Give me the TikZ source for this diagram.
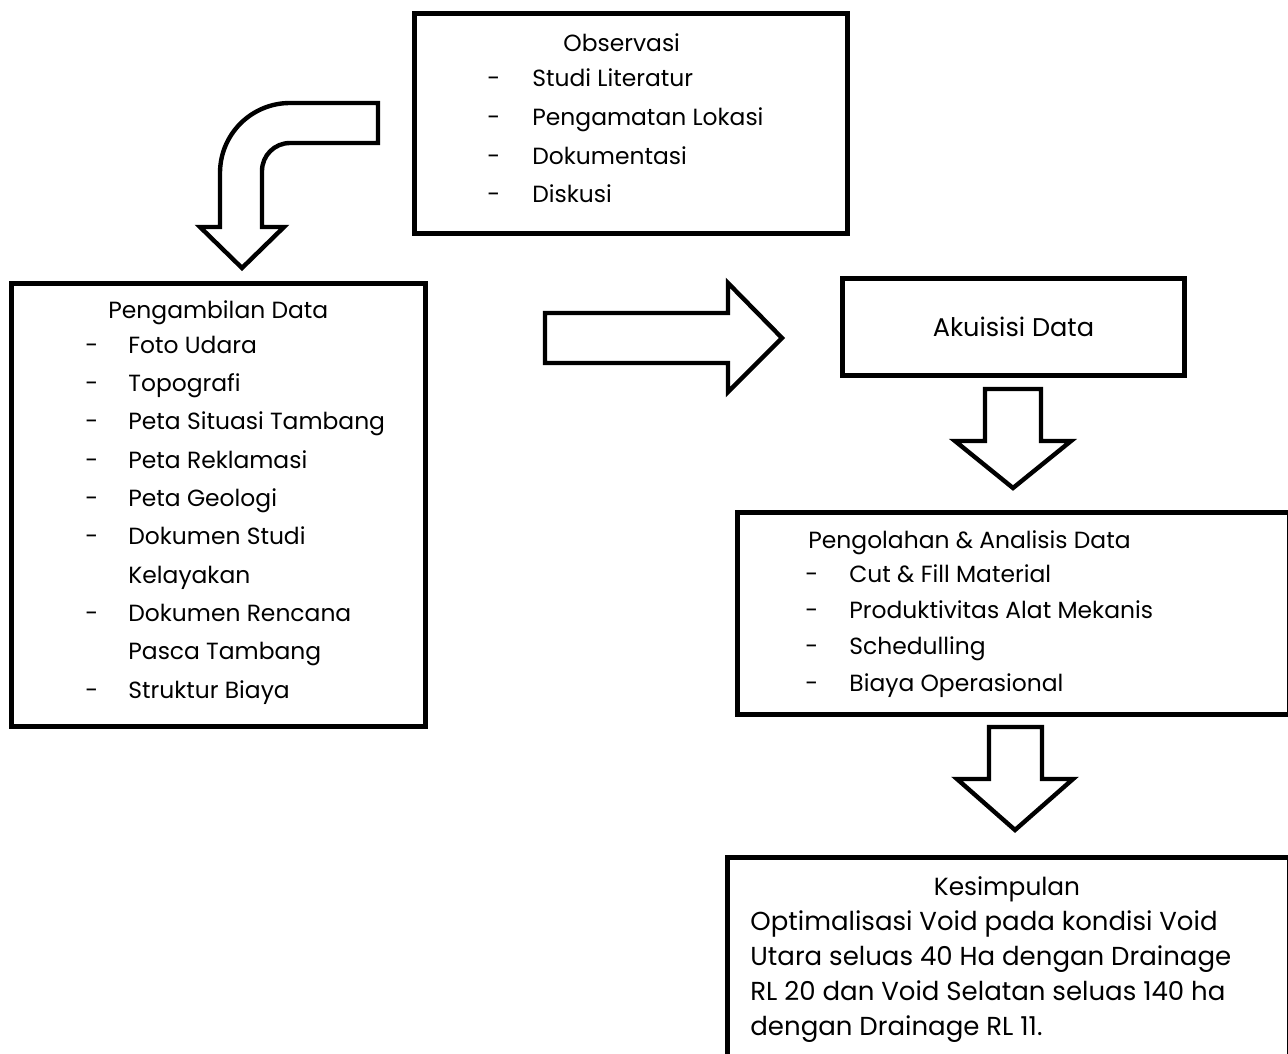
\documentclass[tikz,border=0pt]{standalone}
\usepackage{fontspec}
\setmainfont{Poppins}
\usetikzlibrary{positioning,calc}

\begin{document}
\begin{tikzpicture}
    [ x=0.5pt, y=-0.5pt
    , box/.style={draw, line width=2.4pt, inner sep=0pt, anchor=north west, font=\fontsize{12.8}{19.2}\selectfont}
    , txt/.style={inner sep=0pt, anchor=base west, align=left}
    , blockarrow/.style={draw, line width=2.2pt, fill=white, line join=miter}
    ]
  \clip (0,0) rectangle (1288,1053);

  % kotak
  \node[box, minimum width=216.5pt, minimum height=110pt] (obs) at (412,11) {};
  \node[box, minimum width=207pt, minimum height=221.5pt] (ambil) at (9,281) {};
  \node[box, minimum width=171pt, minimum height=48.5pt] (akuis) at (840,276) {Akuisisi Data};
  \node[box, minimum width=276pt, minimum height=101pt] (olah) at (735,510) {};
  \node[box, minimum width=281pt, minimum height=120pt] (simpul) at (725,855) {};

  % isi (base = baris terakhir)
  \node[txt, font=\fontsize{11.7}{19.35}\selectfont] (obs list) at (487,203)
    {\hspace*{38pt}Observasi\\[-1.85pt]
     \makebox[22.5pt][l]{-}Studi Literatur\\
     \makebox[22.5pt][l]{-}Pengamatan Lokasi\\
     \makebox[22.5pt][l]{-}Dokumentasi\\
     \makebox[22.5pt][l]{-}Diskusi};
  \node[txt, font=\fontsize{11.7}{19.15}\selectfont] (ambil list) at (85,698)
    {\hspace*{11.5pt}Pengambilan Data\\[-1.65pt]
     \makebox[21.5pt][l]{-}Foto Udara\\
     \makebox[21.5pt][l]{-}Topografi\\
     \makebox[21.5pt][l]{-}Peta Situasi Tambang\\
     \makebox[21.5pt][l]{-}Peta Reklamasi\\
     \makebox[21.5pt][l]{-}Peta Geologi\\
     \makebox[21.5pt][l]{-}Dokumen Studi\\
     \makebox[21.5pt][l]{}Kelayakan\\
     \makebox[21.5pt][l]{-}Dokumen Rencana\\
     \makebox[21.5pt][l]{}Pasca Tambang\\
     \makebox[21.5pt][l]{-}Struktur Biaya};
  \node[txt, font=\fontsize{11.7}{18.15}\selectfont] (olah list) at (805,691)
    {\hspace*{1.5pt}Pengolahan \& Analisis Data\\[-1.15pt]
     \makebox[22pt][l]{-}Cut \& Fill Material\\
     \makebox[22pt][l]{-}Produktivitas Alat Mekanis\\
     \makebox[22pt][l]{-}Schedulling\\
     \makebox[22pt][l]{-}Biaya Operasional};
  \node[txt, anchor=base, font=\fontsize{12.4}{17.5}\selectfont] (simpul title) at (1007,895) {Kesimpulan};
  \node[txt, font=\fontsize{13}{17.5}\selectfont] (simpul body) at (750,1035)
    {Optimalisasi Void pada kondisi Void\\
     Utara seluas 40 Ha dengan Drainage\\
     RL 20 dan Void Selatan seluas 140 ha\\
     dengan Drainage RL 11.};

  % panah blok
  \draw[blockarrow] (378,103) -- (290,103) .. controls (251.3,103) and (220,134.3) .. (220,173)
    -- (220,227) -- (200,227) -- (242,268) -- (284,227) -- (262,227) -- (262,171)
    .. controls (262,155.5) and (274.5,143) .. (290,143) -- (378,143) -- cycle;
  \draw[blockarrow] (545,313) -- (728,313) -- (728,283) -- (782,338) -- (728,392) -- (728,363) -- (545,363) -- cycle;
  \draw[blockarrow] (985,389) -- (1041,389) -- (1041,441) -- (1071,441) -- (1013,488) -- (955,441) -- (985,441) -- cycle;
  \draw[blockarrow] (989,727) -- (1042,727) -- (1042,779) -- (1073,779) -- (1015,830) -- (957,779) -- (989,779) -- cycle;
\end{tikzpicture}
\end{document}
